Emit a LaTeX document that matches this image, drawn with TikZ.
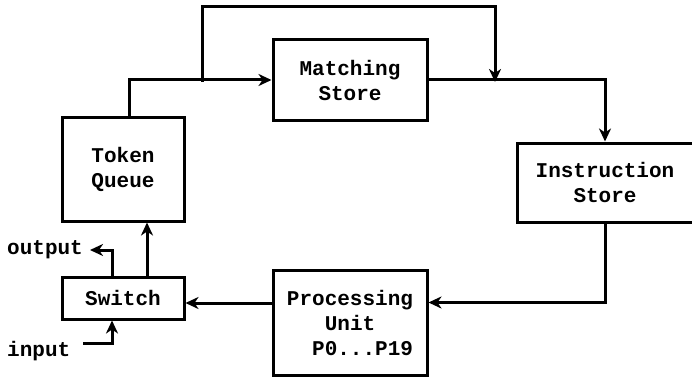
\documentclass[tikz,border=0pt]{standalone}
\usepackage{fontspec}
\setmonofont{Liberation Mono}
\usetikzlibrary{arrows.meta}

\begin{document}
\begin{tikzpicture}[x=1pt,y=-1pt,
  unit/.style={draw,line width=3pt,align=center,inner sep=0pt},
  flow/.style={line width=3pt,-{Stealth[length=13pt,width=12pt,inset=4pt]}},
  every node/.style={font=\ttfamily\bfseries\fontsize{21}{25}\selectfont}]
\useasboundingbox (0,0) rectangle (692,377);
\node[unit,minimum width=122pt,minimum height=104pt] (queue) at (123,169) {Token\\Queue};
\node[unit,minimum width=122pt,minimum height=42pt] (switch) at (123,298) {Switch};
\node[unit,minimum width=154pt,minimum height=80pt] (match) at (350,80) {Matching\\Store};
\node[unit,minimum width=176pt,minimum height=79pt] (instr) at (605,182.5) {Instruction\\Store};
\node[unit,minimum width=154pt,minimum height=105pt] (proc) at (350,322.5) {Processing\\Unit\\\hphantom{xx}P0...P19};
\node[anchor=west,inner sep=0pt] (output) at (7,250) {output};
\node[anchor=west,inner sep=0pt] (input) at (7,351) {input};
\coordinate (bypassA) at (202,82);
\coordinate (bypassB) at (495,82);
\coordinate (bypassTop) at (350,7);
\coordinate (inputEnd) at (83,343);
\coordinate (switchIn) at ([yshift=-5pt]switch.east);
% ring
\draw[flow] ([xshift=6pt]queue.north) |- (match.west);
\draw[flow] (bypassA) |- (bypassTop) -| (bypassB);
\draw[flow] (match.east) -| (instr.north);
\draw[flow] (instr.south) |- ([yshift=20pt]proc.east);
\draw[flow] (switchIn -| proc.west) -- (switchIn);
\draw[flow] ([xshift=24pt]switch.north) -- ([xshift=24pt]queue.south);
% outside
\draw[flow] ([xshift=-11pt]switch.north) |- ([xshift=7pt]output.east);
\draw[flow] (inputEnd) -| ([xshift=-11pt]switch.south);
\end{tikzpicture}
\end{document}
